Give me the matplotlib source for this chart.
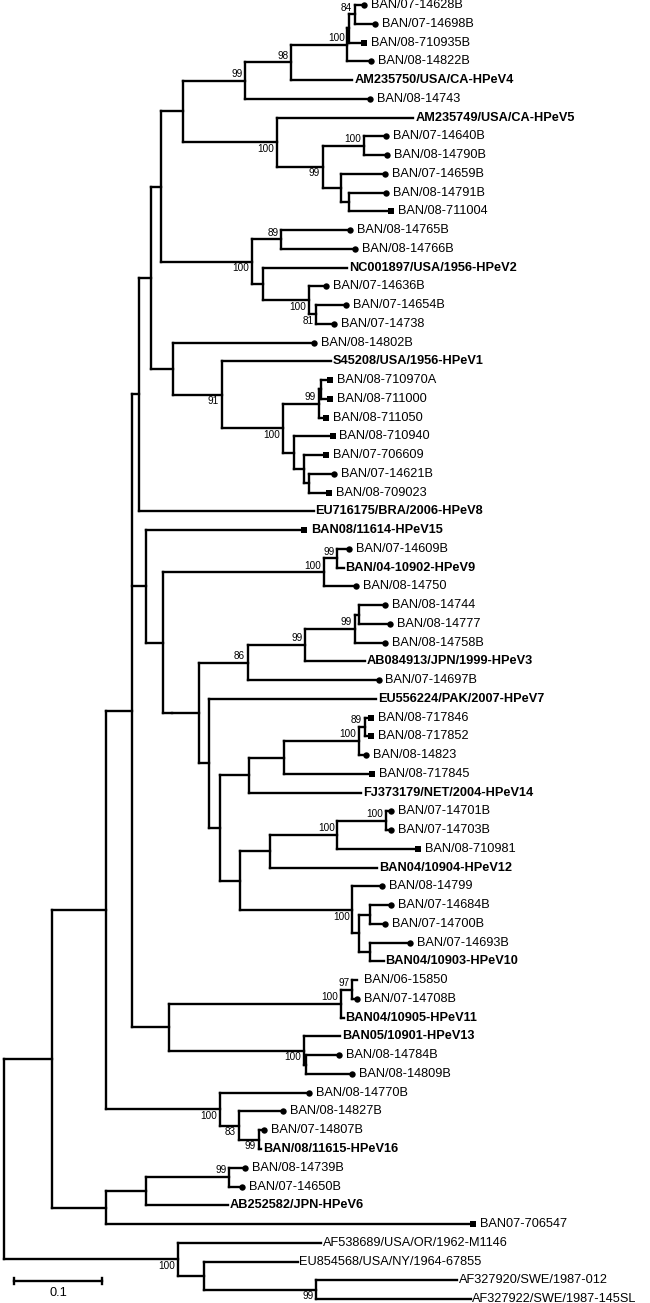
import matplotlib
matplotlib.use("Agg")
import matplotlib.pyplot as plt

plt.rcParams["font.family"] = ["Liberation Sans", "DejaVu Sans"]

# tree topology + branch lengths (substitutions/site), bootstrap on internal nodes
N199 = ("(((((BAN/08-14744:0.0296,BAN/08-14777:0.0352):0.0042,BAN/08-14758B:0.0338)99:0.0563,"
        "AB084913/JPN/1999-HPeV3:0.0676)99:0.0648,BAN/07-14697B:0.1479)86:0.0549")
N228 = ("(((BAN/08-717846:0.0070,BAN/08-717852:0.0070)89:0.0070,BAN/08-14823:0.0085)100:0.0845,"
        "BAN/08-717845:0.1000)")
N217 = ("(((BAN/07-14701B:0.0056,BAN/07-14703B:0.0056)100:0.0549,BAN/08-710981:0.0915)100:0.0761,"
        "BAN04/10904-HPeV12:0.1211)")
N283 = ("(BAN/08-14799:0.0338,((BAN/07-14684B:0.0239,BAN/07-14700B:0.0169):0.0127,"
        "(BAN/07-14693B:0.0451,BAN04/10903-HPeV10:0.0155):0.0127):0.0070)100")
N168 = ("(EU556224/PAK/2007-HPeV7:0.1887,((" + N228 + ":0.0394,FJ373179/NET/2004-HPeV14:0.1268):0.0324,"
        "(" + N217 + ":0.0338," + N283 + ":0.1268):0.0225):0.0127):0.0113")
N130 = ("(BAN08/11614-HPeV15:0.1789,(((BAN/07-14609B:0.0127,BAN/04-10902-HPeV9:0.0070)99:0.0155,"
        "BAN/08-14750:0.0366)100:0.1817,(" + N199 + "," + N168 + "):0.0310):0.0099):0.0197")
N158 = ("((((((BAN/07-14628B:0.0099,BAN/07-14698B:0.0225)84:0.0063,BAN/08-710935B:0.0162):0.0021,"
        "BAN/08-14822B:0.0268)100:0.0634,AM235750/USA/CA-HPeV4:0.0690)98:0.0521,BAN/08-14743:0.1408)99:0.0704,"
        "(AM235749/USA/CA-HPeV5:0.1549,((BAN/07-14640B:0.0254,BAN/08-14790B:0.0268)100:0.0465,"
        "(BAN/07-14659B:0.0493,(BAN/08-14791B:0.0423,BAN/08-711004:0.0479):0.0085):0.0211)99:0.0521)100:0.1056)")
N213 = ("((BAN/08-14765B:0.0775,BAN/08-14766B:0.0831)89:0.0338,(NC001897/USA/1956-HPeV2:0.0958,"
        "(BAN/07-14636B:0.0197,(BAN/07-14654B:0.0338,BAN/07-14738:0.0197)81:0.0085)100:0.0521):0.0127)100")
N150 = ("(BAN/08-14802B:0.1592,(S45208/USA/1956-HPeV1:0.1239,(((BAN/08-710970A:0.0099,BAN/08-711000:0.0099):0.0028,"
        "BAN/08-711050:0.0085)99:0.0408,(BAN/08-710940:0.0437,(BAN/07-706609:0.0254,(BAN/07-14621B:0.0282,"
        "BAN/08-709023:0.0225):0.0056):0.0113):0.0127)100:0.0690)91:0.0549)")
N136 = ("((((BAN/06-15850:0.0056,BAN/07-14708B:0.0056)97:0.0127,BAN04/10905-HPeV11:0.0028)100:0.1944,"
        "(BAN05/10901-HPeV13:0.0408,(BAN/08-14784B:0.0366,BAN/08-14809B:0.0521):0.0028)100:0.1521):0.0423)")
N177b = ("(BAN/08-14770B:0.1000,(BAN/08-14827B:0.0493,(BAN/07-14807B:0.0056,"
         "BAN/08/11615-HPeV16:0.0028)99:0.0225)83:0.0211)100:0.1296")
N85b = ("(((BAN/08-14739B:0.0183,BAN/07-14650B:0.0141)99:0.0944,AB252582/JPN-HPeV6:0.0930):0.0451,"
        "BAN07-706547:0.4155):0.0606")
OUTGROUP = ("(AF538689/USA/OR/1962-M1146:0.1620,(EU854568/USA/NY/1964-67855:0.1056,"
            "(AF327920/SWE/1987-012:0.1592,AF327922/SWE/1987-145SL:0.1746)99:0.1268):0.0296)100:0.1972")

NEWICK = ("((((((((" + N158 + ":0.0254," + N213 + ":0.1028):0.0113," + N150 + ":0.0254):0.0127,"
          "EU716175/BRA/2006-HPeV8:0.1972):0.0085," + N130 + "):0.0155," + N136 + "):0.0296,"
          + N177b + "):0.0606," + N85b + "):0.0549," + OUTGROUP + ");")

circle_leaves = [
    "BAN/07-14628B", "BAN/07-14698B", "BAN/08-14822B", "BAN/08-14743", "BAN/07-14640B",
    "BAN/08-14790B", "BAN/07-14659B", "BAN/08-14791B", "BAN/08-14765B", "BAN/08-14766B",
    "BAN/07-14636B", "BAN/07-14654B", "BAN/07-14738", "BAN/08-14802B", "BAN/07-14621B",
    "BAN/07-14609B", "BAN/08-14750", "BAN/08-14744", "BAN/08-14777", "BAN/08-14758B",
    "BAN/07-14697B", "BAN/08-14823", "BAN/07-14701B", "BAN/07-14703B", "BAN/08-14799",
    "BAN/07-14684B", "BAN/07-14700B", "BAN/07-14693B", "BAN/07-14708B", "BAN/08-14784B",
    "BAN/08-14809B", "BAN/08-14770B", "BAN/08-14827B", "BAN/07-14807B", "BAN/08-14739B",
    "BAN/07-14650B",
]
square_leaves = [
    "BAN/08-710935B", "BAN/08-711004", "BAN/08-710970A", "BAN/08-711000", "BAN/08-711050",
    "BAN/08-710940", "BAN/07-706609", "BAN/08-709023", "BAN08/11614-HPeV15", "BAN/08-717846",
    "BAN/08-717852", "BAN/08-717845", "BAN/08-710981", "BAN07-706547",
]
blank_marker_leaves = ["BAN/06-15850"]
bold_leaves = [
    "AM235750/USA/CA-HPeV4", "AM235749/USA/CA-HPeV5", "NC001897/USA/1956-HPeV2",
    "S45208/USA/1956-HPeV1", "EU716175/BRA/2006-HPeV8", "BAN08/11614-HPeV15",
    "BAN/04-10902-HPeV9", "AB084913/JPN/1999-HPeV3", "EU556224/PAK/2007-HPeV7",
    "FJ373179/NET/2004-HPeV14", "BAN04/10904-HPeV12", "BAN04/10903-HPeV10",
    "BAN04/10905-HPeV11", "BAN05/10901-HPeV13", "BAN/08/11615-HPeV16", "AB252582/JPN-HPeV6",
]
scale_bar_value = 0.1
scale_bar_label = "0.1"

# layout (pixels of the 650x1303 output)
W, H = 650, 1303
PX_PER_UNIT = 884.0
ROOT_PX = 3.7
TOP_PX = 5.0
ROW_PX = 18.754
LW = 1.7
LEAF_FS = 9.2
BOOT_FS = 7.2


def parse_newick(text):
    text = "".join(text.split())
    pos = 0

    def parse_node():
        nonlocal pos
        node = {"children": [], "name": "", "length": 0.0}
        if text[pos] == "(":
            pos += 1
            while True:
                node["children"].append(parse_node())
                if text[pos] == ",":
                    pos += 1
                    continue
                pos += 1  # ')'
                break
        start = pos
        while pos < len(text) and text[pos] not in ":,();":
            pos += 1
        node["name"] = text[start:pos]
        if pos < len(text) and text[pos] == ":":
            pos += 1
            start = pos
            while pos < len(text) and text[pos] not in ",();":
                pos += 1
            node["length"] = float(text[start:pos])
        return node

    return parse_node()


def layout(node, depth, leaves):
    node["x"] = depth + node["length"]
    if node["children"]:
        for ch in node["children"]:
            layout(ch, node["x"], leaves)
        node["y"] = (node["children"][0]["y"] + node["children"][-1]["y"]) / 2
    else:
        node["y"] = len(leaves)
        leaves.append(node)


def px_to_row(p):
    return (p - TOP_PX) / ROW_PX


LINE = dict(color="black", lw=LW, solid_capstyle="projecting")


def draw(ax, node):
    if not node["children"]:
        return
    ys = [c["y"] for c in node["children"]]
    ax.plot([node["x"], node["x"]], [min(ys), max(ys)], **LINE)
    for i, c in enumerate(node["children"]):
        ax.plot([node["x"], c["x"]], [c["y"], c["y"]], **LINE)
        if c["children"] and c["name"]:
            upper = i == 0
            ax.annotate(c["name"], (c["x"], c["y"]), xytext=(-2, 1.2 if upper else -1.2),
                        textcoords="offset points", ha="right",
                        va="bottom" if upper else "top", fontsize=BOOT_FS)
        draw(ax, c)


tree = parse_newick(NEWICK)
leaves = []
layout(tree, 0.0, leaves)

fig = plt.figure(figsize=(W / 100, H / 100), dpi=100)
ax = fig.add_axes([0, 0, 1, 1])
ax.set_xlim(-ROOT_PX / PX_PER_UNIT, (W - ROOT_PX) / PX_PER_UNIT)
ax.set_ylim(px_to_row(H), px_to_row(0))
ax.axis("off")

draw(ax, tree)

for leaf in leaves:
    name = leaf["name"]
    x, y = leaf["x"], leaf["y"]
    offset = 1.3
    if name in circle_leaves:
        ax.plot(x, y, "o", color="black", ms=4.6, mew=0)
        offset = 5.0
    elif name in square_leaves:
        ax.plot(x, y, "s", color="black", ms=3.8, mew=0)
        offset = 5.0
    elif name in blank_marker_leaves:
        offset = 5.0
    ax.annotate(name, (x, y), xytext=(offset, 0), textcoords="offset points",
                ha="left", va="center", fontsize=LEAF_FS,
                fontweight="bold" if name in bold_leaves else "normal")

# scale bar
sb_x0 = (13.7 - ROOT_PX) / PX_PER_UNIT
sb_y = px_to_row(1281)
tick = 3.5 / ROW_PX
ax.plot([sb_x0, sb_x0 + scale_bar_value], [sb_y, sb_y], **LINE)
for xe in (sb_x0, sb_x0 + scale_bar_value):
    ax.plot([xe, xe], [sb_y - tick, sb_y + tick], **LINE)
ax.text(sb_x0 + scale_bar_value / 2, px_to_row(1293), scale_bar_label,
        ha="center", va="center", fontsize=LEAF_FS)

fig.savefig("out.png", dpi=100)
